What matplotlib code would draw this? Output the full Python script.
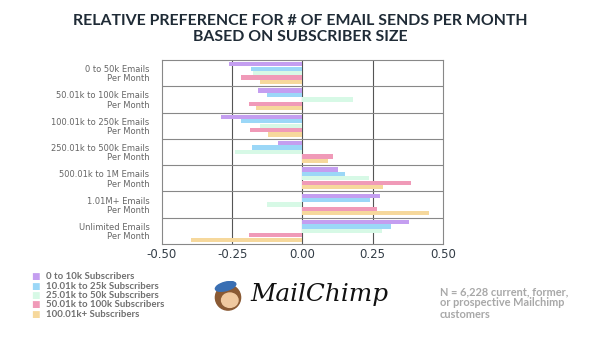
import numpy as np
import matplotlib
matplotlib.use("Agg")
import matplotlib.pyplot as plt
from matplotlib.patches import Circle, Ellipse

# data
categories = ["0 to 50k Emails\nPer Month",
              "50.01k to 100k Emails\nPer Month",
              "100.01k to 250k Emails\nPer Month",
              "250.01k to 500k Emails\nPer Month",
              "500.01k to 1M Emails\nPer Month",
              "1.01M+ Emails\nPer Month",
              "Unlimited Emails\nPer Month"]
series_names = ["0 to 10k Subscribers",
                "10.01k to 25k Subscribers",
                "25.01k to 50k Subscribers",
                "50.01k to 100k Subscribers",
                "100.01k+ Subscribers"]
subs_0_10k = [-0.262, -0.159, -0.290, -0.087, 0.125, 0.276, 0.379]
subs_10_25k = [-0.184, -0.125, -0.219, -0.178, 0.151, 0.240, 0.314]
subs_25_50k = [-0.175, 0.179, -0.151, -0.239, 0.238, -0.127, 0.285]
subs_50_100k = [-0.220, -0.189, -0.186, 0.108, 0.388, 0.266, -0.189]
subs_100k_plus = [-0.151, -0.167, -0.124, 0.090, 0.287, 0.450, -0.395]
xticks = [-0.50, -0.25, 0.00, 0.25, 0.50]

colors = ["#c49ef0", "#9bd7f7", "#d7f9e6", "#f09ab8", "#f6d89c"]
series = [subs_0_10k, subs_10_25k, subs_25_50k, subs_50_100k, subs_100k_plus]

fig = plt.figure(figsize=(6, 3.37), dpi=100)
ax = fig.add_axes([0.27, 0.276, 0.468, 0.546])

y = np.arange(len(categories))
h = 0.168
for i, vals in enumerate(series):
    ax.barh(y + (i - 2) * h, vals, height=h * 0.95, color=colors[i],
            label=series_names[i], zorder=3)

ax.set_xlim(-0.5, 0.5)
ax.set_ylim(len(categories) - 0.5, -0.5)
ax.set_xticks(xticks)
ax.set_xticklabels(["%.2f" % t for t in xticks], fontsize=8.5, color="#333d47")
ax.set_yticks(y)
ax.set_yticklabels(categories, fontsize=6, color="#666666", linespacing=1.05)
ax.tick_params(length=0, pad=3)
ax.tick_params(axis="y", pad=9)
for lab in ax.get_yticklabels():
    lab.set_horizontalalignment("right")
    lab.set_multialignment("right")

for t in [-0.25, 0.0, 0.25]:
    ax.axvline(t, color="#555555", lw=0.8, zorder=1)
for g in range(1, len(categories)):
    ax.axhline(g - 0.5, color="#888888", lw=0.8, zorder=4)
for s in ax.spines.values():
    s.set_color("#888888")
    s.set_linewidth(0.8)

fig.text(0.5, 0.914, "RELATIVE PREFERENCE FOR # OF EMAIL SENDS PER MONTH\nBASED ON SUBSCRIBER SIZE",
         ha="center", va="center", fontsize=11.4, fontweight="bold", family="Lato",
         color="#1f2b36", linespacing=1.1)

# legend
for i, name in enumerate(series_names):
    yy = 1 - (276.7 + i * 9.4) / 337
    fig.text(0.052, yy, "\u25a0", color=colors[i], fontsize=6.5, va="center", ha="left")
    fig.text(0.076, yy, name, color="#707070", fontsize=6.9, family="Lato",
             fontweight="bold", va="center", ha="left")

# logo
lax = fig.add_axes([0.355, 1 - 311 / 337, 0.05, 0.089])
lax.set_xlim(0, 1)
lax.set_ylim(0, 1)
lax.set_aspect("equal")
lax.axis("off")
lax.add_patch(Circle((0.5, 0.45), 0.42, color="#8a5a34"))
lax.add_patch(Ellipse((0.56, 0.36), 0.55, 0.48, color="#f0c9a0"))
lax.add_patch(Ellipse((0.42, 0.82), 0.7, 0.28, angle=15, color="#3a6fb3"))
fig.text(0.418, 1 - 294 / 337, "MailChimp", fontsize=17.8, style="italic",
         family="DejaVu Serif", color="#111111", va="center", ha="left")

fig.text(0.733, 1 - 286 / 337, "N = 6,228 current, former,\nor prospective Mailchimp\ncustomers",
         fontsize=7.9, color="#a8a8a8", family="Lato", fontweight="bold",
         va="top", ha="left", linespacing=1.05)

fig.savefig("out.png", dpi=100)
